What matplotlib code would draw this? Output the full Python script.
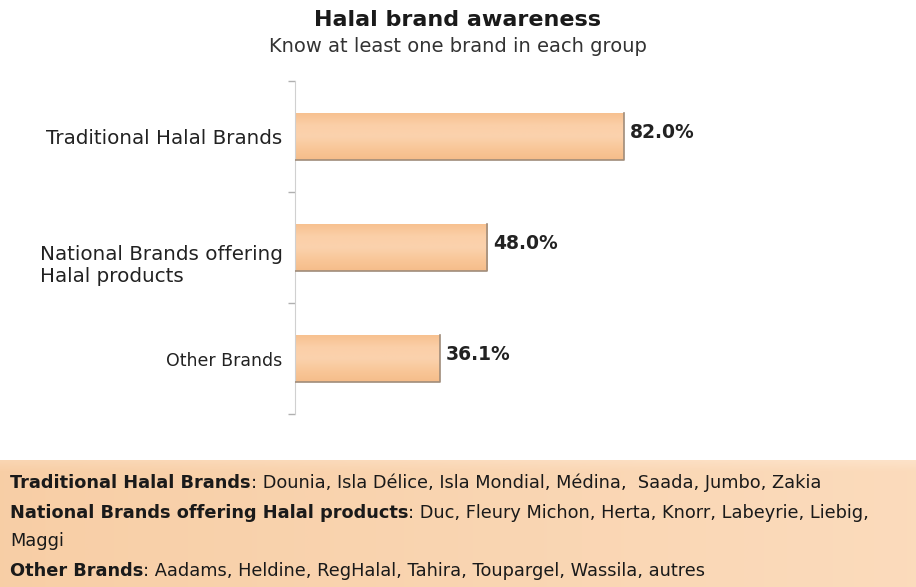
import numpy as np
import matplotlib
matplotlib.use("Agg")
import matplotlib.pyplot as plt
from matplotlib.colors import LinearSegmentedColormap
from matplotlib.transforms import ScaledTranslation

# --------- DATA ---------
categories = ["Traditional Halal Brands", "National Brands offering\nHalal products", "Other Brands"]
values = [82.0, 48.0, 36.1]

title = "Halal brand awareness"
subtitle = "Know at least one brand in each group"

note_heads = ["Traditional Halal Brands", "National Brands offering Halal products", None, "Other Brands"]
note_rests = [": Dounia, Isla Délice, Isla Mondial, Médina,  Saada, Jumbo, Zakia",
              ": Duc, Fleury Michon, Herta, Knorr, Labeyrie, Liebig,",
              "Maggi",
              ": Aadams, Heldine, RegHalal, Tahira, Toupargel, Wassila, autres"]

plt.rcParams["font.family"] = "DejaVu Sans"

fig = plt.figure(figsize=(9.16, 5.87), dpi=100)

# --------- TITLE ---------
fig.text(0.5, 1 - 20 / 587, title, ha="center", va="center", fontsize=16, fontweight="bold", color="#1a1a1a")
fig.text(0.5, 1 - 47 / 587, subtitle, ha="center", va="center", fontsize=14, color="#333333")

# --------- BARS ---------
ax = fig.add_axes([295 / 916, 1 - 414 / 587, 401 / 916, 333 / 587])
y = np.arange(len(categories))
bars = ax.barh(y, values, height=0.42, color="#f9c89c", edgecolor="none", zorder=2)

bar_cmap = LinearSegmentedColormap.from_list("bar", ["#f7c190", "#fbcfa8", "#fbd2ad", "#f9c799", "#f5bd8a"])
grad = np.linspace(0, 1, 64).reshape(-1, 1)
for b in bars:
    x0, y0, w, h = b.get_x(), b.get_y(), b.get_width(), b.get_height()
    im = ax.imshow(grad, cmap=bar_cmap, aspect="auto", extent=(x0, x0 + w, y0 + h, y0), zorder=2)
    im.set_clip_path(b)
    # darker shadow on bottom and right edges
    ax.plot([x0, x0 + w, x0 + w], [y0 + h, y0 + h, y0], color="#a08c7a", lw=1.2, zorder=3)

for b, v in zip(bars, values):
    ax.annotate(f"{v:.1f}%", (b.get_width(), b.get_y() + b.get_height() / 2),
                xytext=(4, 3), textcoords="offset points", ha="left", va="center",
                fontsize=13.5, fontweight="bold", color="#222222")

ax.set_xlim(0, 100)
ax.set_ylim(2.5, -0.5)
ax.set_yticks(y)
ax.set_yticklabels(categories, fontsize=14.3, color="#222222", multialignment="left", linespacing=1.15)
ax.set_yticks([-0.5, 0.5, 1.5, 2.5], minor=True)
ax.tick_params(axis="y", which="major", length=0, pad=9)
ax.tick_params(axis="y", which="minor", length=5, color="#b0b0b0", width=1)
ax.set_xticks([])
for s in ["top", "right", "bottom"]:
    ax.spines[s].set_visible(False)
ax.spines["left"].set_color("#d0d0d0")
labels = ax.get_yticklabels()
labels[1].set_transform(labels[1].get_transform() + ScaledTranslation(0, -0.15, fig.dpi_scale_trans))
labels[2].set_fontsize(12.5)

# --------- NOTE BOX ---------
nax = fig.add_axes([0, 0, 1, 127 / 587])
gx = np.linspace(0, 1, 200)
gy = np.linspace(0, 1, 60)
X, Y = np.meshgrid(gx, gy)
box_cmap = LinearSegmentedColormap.from_list("box", ["#f7cba0", "#fde2c8"])
Z = 0.15 + 0.55 * X + 0.3 * np.clip((Y - 0.92) / 0.08, 0, 1)
nax.imshow(Z, cmap=box_cmap, vmin=0, vmax=1, aspect="auto", extent=(0, 1, 0, 1), origin="lower")
nax.set_xlim(0, 1)
nax.set_ylim(0, 1)
nax.axis("off")

line_y = [483, 513, 541, 571]
for head, rest, ly in zip(note_heads, note_rests, line_y):
    yy = (587 - ly) / 127
    if head is None:
        nax.text(10 / 916, yy, rest, ha="left", va="center", fontsize=12.8, color="#1a1a1a")
        continue
    t = nax.text(10 / 916, yy, head, ha="left", va="center", fontsize=12.8, fontweight="bold", color="#1a1a1a")
    nax.annotate(rest, xy=(1, 0.5), xycoords=t, ha="left", va="center", fontsize=12.8, color="#1a1a1a")

fig.savefig("out.png", dpi=100)
